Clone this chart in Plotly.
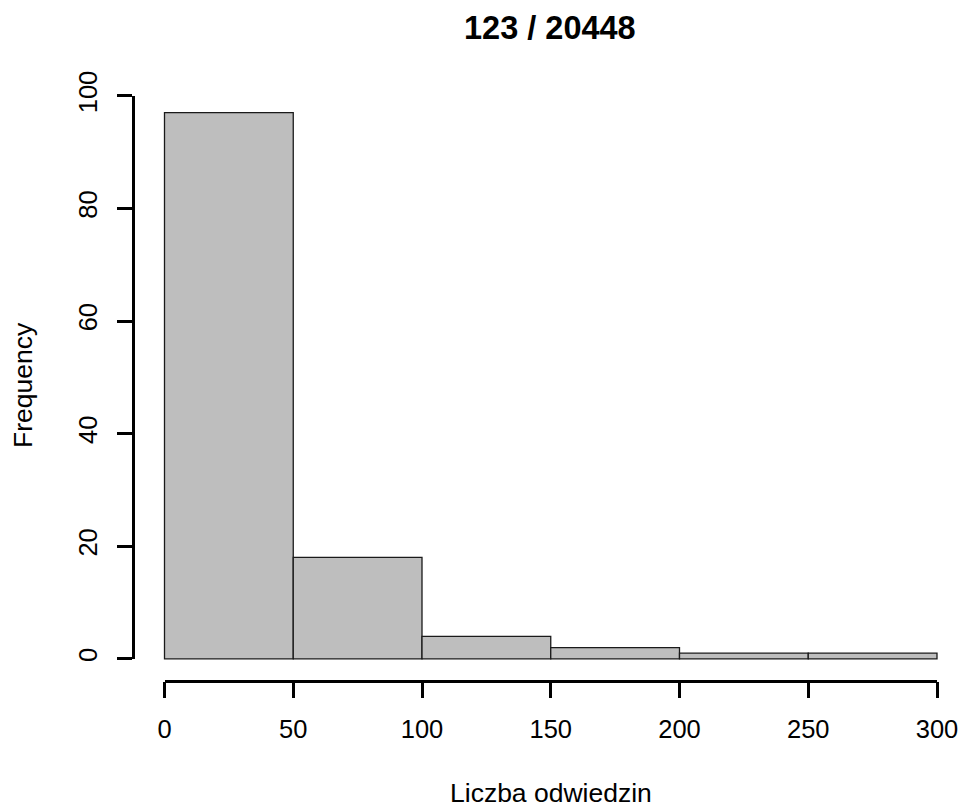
import plotly.graph_objects as go

# ---- data ----
bin_edges = [0, 50, 100, 150, 200, 250, 300]
counts = [97, 18, 4, 2, 1, 1]
x_ticks = [0, 50, 100, 150, 200, 250, 300]
x_tick_labels = ["0", "50", "100", "150", "200", "250", "300"]
y_ticks = [0, 20, 40, 60, 80, 100]
y_tick_labels = ["0", "20", "40", "60", "80", "100"]
title_text = "123 / 20448"
x_title = "Liczba odwiedzin"
y_title = "Frequency"

centers = [(a + b) / 2 for a, b in zip(bin_edges[:-1], bin_edges[1:])]
widths = [b - a for a, b in zip(bin_edges[:-1], bin_edges[1:])]

# ---- layout geometry (page pixels) ----
W, H = 961, 807
X0PX, XSCALE = 164.5, 2.575      # px of x=0, px per unit
Y0PX, YSCALE = 658.8, 5.63       # px of y=0, px per unit


def px2paper_x(px):
    return px / W


def py2paper_y(py):
    return 1 - py / H


def px2x(px):
    return (px - X0PX) / XSCALE


def py2y(py):
    return (Y0PX - py) / YSCALE


# hidden axes (R plot region)
reg_l, reg_r, reg_t, reg_b = 132.5, 961.0, 40.0, 680.5
# visible axes extents
xa_l, xa_r = X0PX, X0PX + 300 * XSCALE
ya_b, ya_t = Y0PX, Y0PX - 100 * YSCALE

FONT = "Liberation Sans, Arial, sans-serif"

fig = go.Figure()
fig.add_trace(go.Bar(
    x=centers, y=counts, width=widths,
    marker=dict(color="#BEBEBE", line=dict(color="#1a1a1a", width=1.3)),
    xaxis="x", yaxis="y", showlegend=False, hoverinfo="x+y",
))
fig.add_trace(go.Scatter(x=[None], y=[None], xaxis="x2", yaxis="y2",
                         showlegend=False, hoverinfo="skip"))

fig.update_layout(
    width=W, height=H, autosize=False,
    margin=dict(l=0, r=0, t=0, b=0),
    paper_bgcolor="white", plot_bgcolor="rgba(0,0,0,0)",
    font=dict(family=FONT, color="black"),
    xaxis=dict(visible=False, domain=[px2paper_x(reg_l), 1],
               range=[px2x(reg_l), px2x(reg_r)], fixedrange=True),
    yaxis=dict(visible=False, domain=[py2paper_y(reg_b), py2paper_y(reg_t)],
               range=[py2y(reg_b), py2y(reg_t)], fixedrange=True),
    xaxis2=dict(domain=[px2paper_x(xa_l), px2paper_x(xa_r)], range=[0, 300],
                anchor="free", position=py2paper_y(680.5),
                showline=True, linecolor="black", linewidth=2.6,
                ticks="outside", ticklen=16, tickwidth=2.6, tickcolor="black",
                tickvals=x_ticks, ticktext=x_tick_labels, ticklabelstandoff=9,
                tickfont=dict(size=25.5, family=FONT, color="black"),
                showgrid=False, zeroline=False, automargin=False, fixedrange=True),
    yaxis2=dict(domain=[py2paper_y(ya_b), py2paper_y(ya_t)], range=[0, 100],
                anchor="free", position=px2paper_x(132.5),
                showline=True, linecolor="black", linewidth=2.6,
                ticks="outside", ticklen=15, tickwidth=2.6, tickcolor="black",
                tickvals=y_ticks, ticktext=y_tick_labels, tickangle=-90,
                ticklabelstandoff=10,
                tickfont=dict(size=25.5, family=FONT, color="black"),
                showgrid=False, zeroline=False, automargin=False, fixedrange=True),
    annotations=[
        dict(text="<b>" + title_text + "</b>", xref="paper", yref="paper",
             x=px2paper_x(549.5), y=py2paper_y(28), xanchor="center", yanchor="middle",
             showarrow=False, font=dict(size=32.5, family=FONT, color="black")),
        dict(text=x_title, xref="paper", yref="paper",
             x=px2paper_x(550.5), y=py2paper_y(793), xanchor="center", yanchor="middle",
             showarrow=False, font=dict(size=26.5, family=FONT, color="black")),
        dict(text=y_title, xref="paper", yref="paper", textangle=-90,
             x=px2paper_x(23), y=py2paper_y(385), xanchor="center", yanchor="middle",
             showarrow=False, font=dict(size=26.5, family=FONT, color="black")),
    ],
)

fig.write_html("out.html",
               config={"displayModeBar": False},
               post_script="document.body.style.margin='0';"
                           "document.body.style.overflow='hidden';")
